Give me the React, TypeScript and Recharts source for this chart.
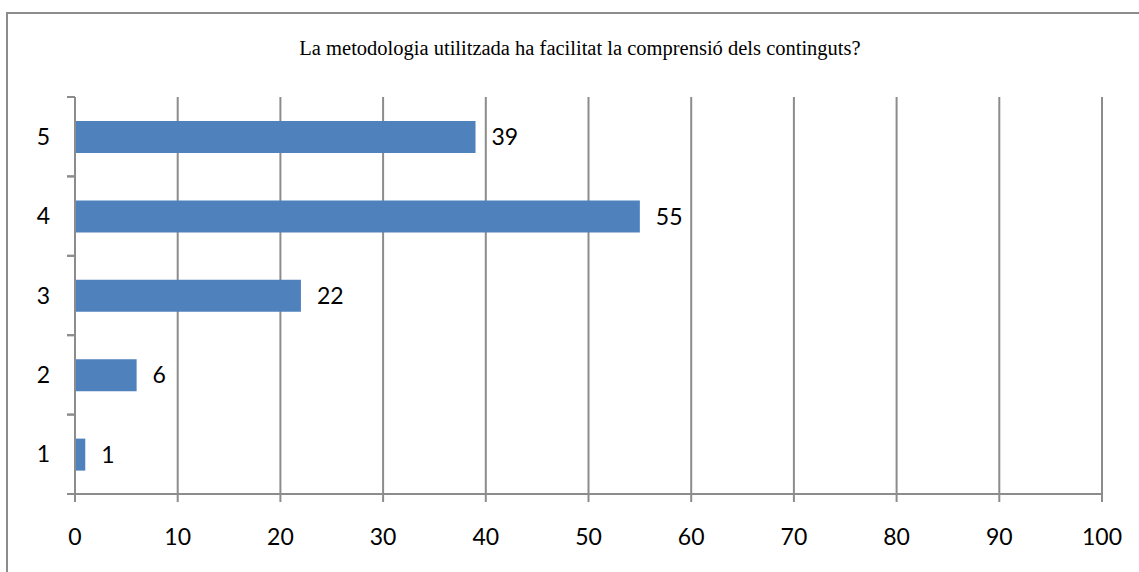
import React from "react";
import { BarChart, Bar, XAxis, YAxis, CartesianGrid, LabelList } from "recharts";

const categories = ["1", "2", "3", "4", "5"];
const values = [1, 6, 22, 55, 39];
const xTicks = [0, 10, 20, 30, 40, 50, 60, 70, 80, 90, 100];
const title = "La metodologia utilitzada ha facilitat la comprensió dels continguts?";

const data = categories.map((c, i) => ({ cat: c, value: values[i] }));

const GRAY = "#8c8c8c";
const FONT = "Lato, 'Open Sans', sans-serif";

const YTick = (props: any) => {
  const { x, y, payload } = props;
  const off = payload && payload.offset ? payload.offset : 0;
  return (
    <g>
      <line x1={x - 6} x2={x + 2} y1={y - off} y2={y - off} stroke={GRAY} strokeWidth={2} />
      <line x1={x - 6} x2={x + 2} y1={y + off} y2={y + off} stroke={GRAY} strokeWidth={2} />
      <text x={x - 23} y={y} dy="0.35em" textAnchor="end" fill="#000" fontSize={23} fontFamily={FONT}>
        {payload.value}
      </text>
    </g>
  );
};

export default function App() {
  return (
    <div style={{ position: "absolute", left: 0, top: 0, width: 1139, height: 572, background: "#fff", overflow: "hidden" }}>
      <div
        style={{
          position: "absolute",
          left: 6,
          top: 12,
          width: 1200,
          height: 600,
          borderLeft: `2px solid ${GRAY}`,
          borderTop: `2px solid ${GRAY}`,
        }}
      />
      <div
        style={{
          position: "absolute",
          left: 0,
          top: 36,
          width: 1160,
          textAlign: "center",
          fontFamily: "'Liberation Serif', 'Times New Roman', serif",
          fontSize: 20.5,
          lineHeight: "24px",
          color: "#000",
        }}
      >
        {title}
      </div>
      <div style={{ position: "absolute", left: 0, top: 0 }}>
        <BarChart
          width={1139}
          height={572}
          data={data}
          layout="vertical"
          margin={{ top: 97, right: 37, bottom: 0, left: 0 }}
          barCategoryGap={0}
        >
          <CartesianGrid horizontal={false} vertical={true} stroke={GRAY} strokeWidth={2} />
          <XAxis
            type="number"
            domain={[0, 100]}
            ticks={xTicks}
            interval={0}
            height={78}
            axisLine={{ stroke: GRAY, strokeWidth: 2 }}
            tickLine={{ stroke: GRAY, strokeWidth: 2 }}
            tickSize={8}
            tickMargin={27}
            tick={{ fill: "#000", fontSize: 23, fontFamily: FONT }}
          />
          <YAxis
            type="category"
            dataKey="cat"
            reversed
            width={75}
            axisLine={{ stroke: GRAY, strokeWidth: 2 }}
            tickLine={false}
            tickSize={0}
            tick={<YTick />}
          />
          <Bar dataKey="value" fill="#4f81bd" barSize={32} isAnimationActive={false}>
            <LabelList dataKey="value" position="right" offset={16} fill="#000" fontSize={23} fontFamily={FONT} />
          </Bar>
        </BarChart>
      </div>
    </div>
  );
}
